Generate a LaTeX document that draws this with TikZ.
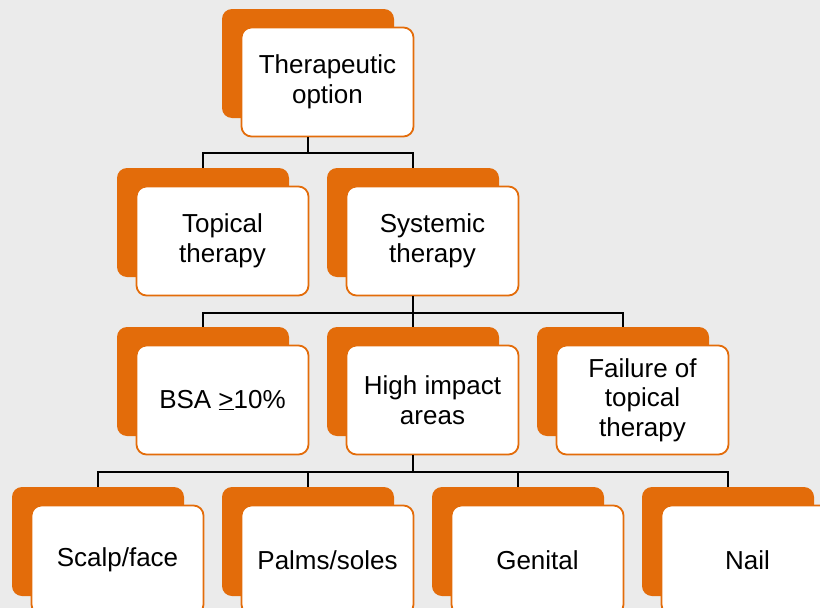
\documentclass[tikz,border=0pt]{standalone}
\usepackage{fontspec}
\setmainfont{Liberation Sans}
\usetikzlibrary{calc}

\definecolor{boxorange}{RGB}{227,108,10}
\definecolor{pagegray}{RGB}{235,235,235}

\tikzset{
  backbox/.style={fill=boxorange, rounded corners=10pt,
    minimum width=172pt, minimum height=109pt, inner sep=0pt},
  frontbox/.style={fill=white, draw=boxorange, line width=1.8pt,
    rounded corners=10pt, minimum width=172pt, minimum height=109pt,
    inner sep=0pt, align=center, font=\fontsize{26}{29.5}\selectfont},
  link/.style={draw=black, line width=2pt}
}

\begin{document}
\begin{tikzpicture}[x=1pt,y=-1pt]
                        \useasboundingbox (0,0) rectangle (820,608);
                        \clip (0,0) rectangle (820,608);
                        \fill[pagegray] (0,0) rectangle (820,608);

                        % Drawing root box
                        \node[backbox] (rootB) at (308,63.5) {};
                        \node[frontbox] (root) at (327.5,82) {Therapeutic\\option};

                        % Drawing second row
                        \node[backbox] (topB) at (203,222.5) {};
                        \node[frontbox] (top) at (222.5,241) {Topical\\therapy};
                        \node[backbox] (sysB) at (413,222.5) {};
                        \node[frontbox] (sys) at (432.5,241) {Systemic\\therapy};

                        % Drawing third row
                        \node[backbox] (bsaB) at (203,381.5) {};
                        \node[frontbox] (bsa) at (222.5,400) {BSA \underline{>}10\%};
                        \node[backbox] (highB) at (413,381.5) {};
                        \node[frontbox] (high) at (432.5,400) {High impact\\areas};
                        \node[backbox] (failB) at (623,381.5) {};
                        \node[frontbox] (fail) at (642.5,400) {Failure of\\topical\\therapy};

                        % Drawing fourth row
                        \node[backbox] (scalpB) at (98,541.5) {};
                        \node[frontbox] (scalp) at (117.5,560) {Scalp/face};
                        \node[backbox] (palmB) at (308,541.5) {};
                        \node[frontbox] (palm) at (327.5,560) {Palms/soles};
                        \node[backbox] (genB) at (518,541.5) {};
                        \node[frontbox] (gen) at (537.5,560) {Genital};
                        \node[backbox] (nailB) at (728,541.5) {};
                        \node[frontbox] (nail) at (747.5,560) {Nail};

                        % Drawing links root -> second row
                        \draw[link] (root.south -| rootB.center) -- ++(0,16) -| (topB.north);
                        \draw[link] (root.south -| rootB.center) -- ++(0,16) -| (sysB.north);

                        % Drawing links systemic -> third row
                        \foreach \child in {bsaB,highB,failB}
                          \draw[link] (sys.south -| sysB.center) -- ++(0,16.5) -| (\child.north);

                        % Drawing links high impact -> fourth row
                        \foreach \child in {scalpB,palmB,genB,nailB}
                          \draw[link] (high.south -| highB.center) -- ++(0,16.5) -| (\child.north);
\end{tikzpicture}
\end{document}
